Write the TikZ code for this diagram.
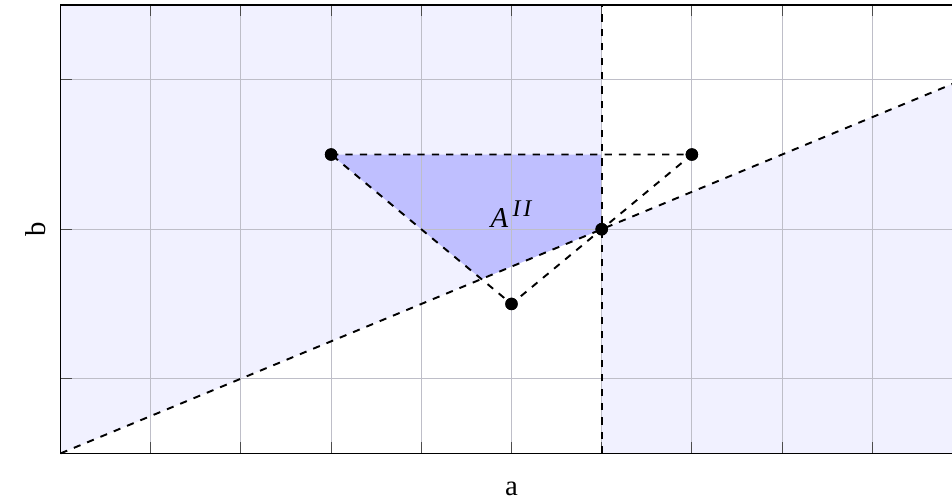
\documentclass[tikz,border=0pt]{standalone}
\usepackage{fontspec}
\setmainfont{Liberation Serif}
\usetikzlibrary{positioning}

\definecolor{areablue}{RGB}{241,241,255}
\definecolor{cutblue}{RGB}{191,191,255}
\definecolor{gridgray}{RGB}{190,190,200}

\begin{document}
\begin{tikzpicture}[
  x=37.6pt, y=62.3pt,
  dot/.style={circle, fill=black, inner sep=0pt, minimum size=5.2pt},
  cutline/.style={dashed, thick},
  gridline/.style={gridgray, line width=0.4pt},
  tick/.style={black!70, line width=0.4pt},
  axislabel/.style={font=\large}
]
  \useasboundingbox (-0.671,-1.829) rectangle (9.884,1.534);
  \begin{scope}
    \clip (-0.671,-1.829) rectangle (9.884,1.534);
    % half planes
    \fill[areablue] (0,-1.5) -- (6,0) -- (6,1.5) -- (0,1.5) -- cycle;
    \fill[areablue] (6,-1.5) -- (6,0) -- (10,1) -- (10,-1.5) -- cycle;
    \fill[cutblue] (3,0.5) -- (6,0.5) -- (6,0) -- (4.667,-0.333) -- cycle;
    % grid
    \foreach \i in {1,...,10} \draw[gridline] (\i,-1.5) -- (\i,1.5);
    \foreach \j in {-1,0,1} \draw[gridline] (0,\j) -- (10,\j);
    % ticks
    \foreach \i in {1,...,10} {
      \draw[tick] (\i,-1.5) -- ++(0,0.074);
      \draw[tick] (\i,1.5) -- ++(0,-0.074);
    }
    \foreach \j in {-1,0,1} \draw[tick] (0,\j) -- ++(0.122,0);
    % points
    \node[dot] (p1) at (3,0.5) {};
    \node[dot] (p2) at (7,0.5) {};
    \node[dot] (p3) at (5,-0.5) {};
    \node[dot] (p4) at (6,0) {};
    \coordinate (lo) at (0,-1.5);
    \coordinate (hi) at (10,1);
    \coordinate (vlo) at (6,-1.5);
    \coordinate (vhi) at (6,1.5);
    \draw[cutline] (p1.center) -- (p2.center) -- (p3.center) -- cycle;
    \draw[cutline] (lo) -- (p4.center) -- (hi);
    \draw[cutline] (vlo) -- (vhi);
    \draw[line width=0.6pt] (0,-1.5) rectangle (10,1.5);
    \node[dot] at (p1) {};
    \node[dot] at (p2) {};
    \node[dot] at (p3) {};
    \node[dot] at (p4) {};
  \end{scope}
  \node[font=\large] (area) at (5.0,0.1) {\textit{A}\kern0.15em\raisebox{0.85ex}{\normalsize\textit{I\kern0.12em I}}};
  \node[axislabel] (xlabel) at (5,-1.74) {a};
  \node[axislabel, rotate=90] (ylabel) at (-0.28,0) {b};
\end{tikzpicture}
\end{document}
